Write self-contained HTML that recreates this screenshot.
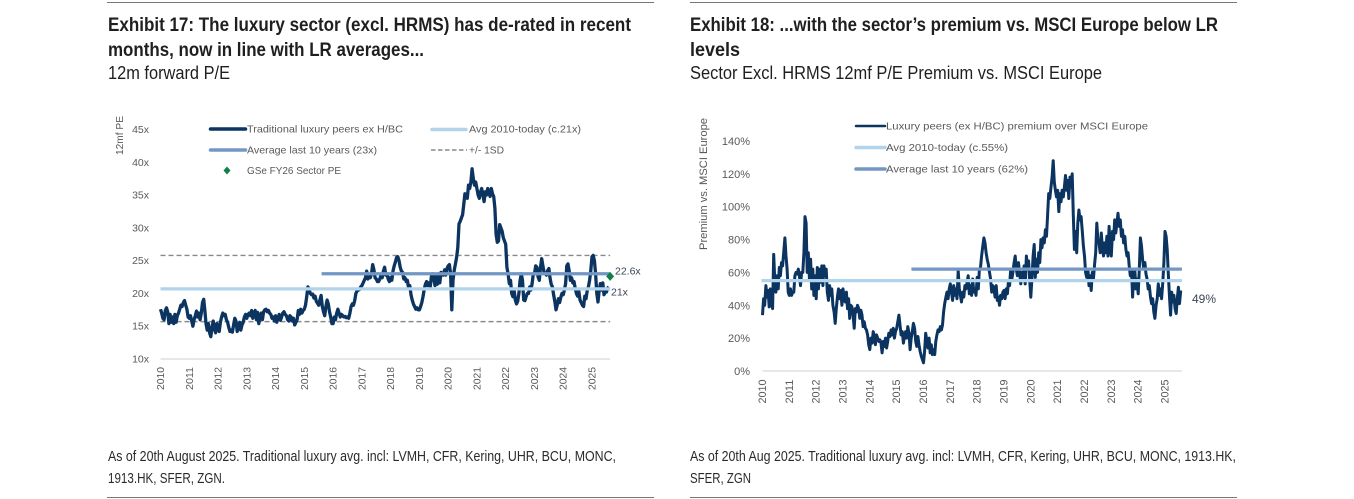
<!DOCTYPE html>
<html>
<head>
<meta charset="utf-8">
<title>Luxury sector exhibits</title>
<style>
html,body{margin:0;padding:0;background:#fff;width:1354px;height:499px;overflow:hidden}
svg{display:block}
text{font-family:"Liberation Sans",sans-serif}
.title{font-family:"Liberation Sans Narrow","Liberation Sans",sans-serif;font-weight:bold;font-size:19px;fill:#1f1f1f}
.sub{font-family:"Liberation Sans Narrow","Liberation Sans",sans-serif;font-size:18px;fill:#1f1f1f}
.foot{font-family:"Liberation Sans Narrow","Liberation Sans",sans-serif;font-size:14.5px;fill:#2b2b2b}
.leg{font-size:10.5px;fill:#595959}
.tick{font-size:10.5px;fill:#595959}
.tick-lg{font-size:11px;fill:#595959}
.anno{font-size:10.5px;fill:#3a4656}
</style>
</head>
<body>
<svg id="root" width="1354" height="499" viewBox="0 0 1354 499" xmlns="http://www.w3.org/2000/svg">
  <line x1="107" y1="2.5" x2="654" y2="2.5" stroke="#777"/>
  <line x1="690" y1="2.5" x2="1237" y2="2.5" stroke="#777"/>
  <line x1="107" y1="497.5" x2="654" y2="497.5" stroke="#777"/>
  <line x1="690" y1="497.5" x2="1237" y2="497.5" stroke="#777"/>

  <text class="title" x="108" y="31" textLength="523" lengthAdjust="spacingAndGlyphs">Exhibit 17: The luxury sector (excl. HRMS) has de-rated in recent</text>
  <text class="title" x="108" y="56" textLength="316" lengthAdjust="spacingAndGlyphs">months, now in line with LR averages...</text>
  <text class="sub" x="108" y="79" textLength="122" lengthAdjust="spacingAndGlyphs">12m forward P/E</text>

  <text class="title" x="690" y="31" textLength="528" lengthAdjust="spacingAndGlyphs">Exhibit 18: ...with the sector’s premium vs. MSCI Europe below LR</text>
  <text class="title" x="690" y="56" textLength="50" lengthAdjust="spacingAndGlyphs">levels</text>
  <text class="sub" x="690" y="79" textLength="412" lengthAdjust="spacingAndGlyphs">Sector Excl. HRMS 12mf P/E Premium vs. MSCI Europe</text>

  <text class="foot" x="108" y="461" textLength="508" lengthAdjust="spacingAndGlyphs">As of 20th August 2025. Traditional luxury avg. incl: LVMH, CFR, Kering, UHR, BCU, MONC,</text>
  <text class="foot" x="108" y="483" textLength="117" lengthAdjust="spacingAndGlyphs">1913.HK, SFER, ZGN.</text>
  <text class="foot" x="690" y="461" textLength="546" lengthAdjust="spacingAndGlyphs">As of 20th Aug 2025. Traditional luxury avg. incl: LVMH, CFR, Kering, UHR, BCU, MONC, 1913.HK,</text>
  <text class="foot" x="690" y="483" textLength="61" lengthAdjust="spacingAndGlyphs">SFER, ZGN</text>

  <g id="chart-left"></g>
  <g id="chart-right"></g>

  <g>
    <line x1="210.5" y1="129" x2="245.5" y2="129" stroke="#0b3460" stroke-width="3.5" stroke-linecap="round"/>
    <text class="leg" x="247" y="132.5" textLength="156" lengthAdjust="spacingAndGlyphs">Traditional luxury peers ex H/BC</text>
    <line x1="432" y1="129.5" x2="466" y2="129.5" stroke="#b2d3ec" stroke-width="3.5" stroke-linecap="round"/>
    <text class="leg" x="469" y="132.5" textLength="112" lengthAdjust="spacingAndGlyphs">Avg 2010-today (c.21x)</text>
    <line x1="210.5" y1="150" x2="245.5" y2="150" stroke="#7397c4" stroke-width="3.5" stroke-linecap="round"/>
    <text class="leg" x="247" y="153.5" textLength="130" lengthAdjust="spacingAndGlyphs">Average last 10 years (23x)</text>
    <line x1="431" y1="150" x2="467" y2="150" stroke="#888" stroke-width="1.4" stroke-dasharray="4.5 2.5"/>
    <text class="leg" x="469" y="153.5" textLength="35" lengthAdjust="spacingAndGlyphs">+/- 1SD</text>
    <polygon points="227,166.5 230.5,170.5 227,174.5 223.5,170.5" fill="#0e8048"/>
    <text class="leg" x="247" y="174" textLength="94" lengthAdjust="spacingAndGlyphs">GSe FY26 Sector PE</text>
  </g>
  <g>
    <line x1="856" y1="126" x2="885" y2="126" stroke="#0b3460" stroke-width="2.5" stroke-linecap="round"/>
    <text class="leg" x="886" y="129.5" textLength="262" lengthAdjust="spacingAndGlyphs">Luxury peers (ex H/BC) premium over MSCI Europe</text>
    <line x1="856" y1="147.5" x2="885" y2="147.5" stroke="#b2d3ec" stroke-width="3.5" stroke-linecap="round"/>
    <text class="leg" x="886" y="151" textLength="122" lengthAdjust="spacingAndGlyphs">Avg 2010-today (c.55%)</text>
    <line x1="856" y1="169" x2="885" y2="169" stroke="#7397c4" stroke-width="3.5" stroke-linecap="round"/>
    <text class="leg" x="886" y="172.5" textLength="142" lengthAdjust="spacingAndGlyphs">Average last 10 years (62%)</text>
  </g>
</svg>
<script>
var xYears = [2010,2011,2012,2013,2014,2015,2016,2017,2018,2019,2020,2021,2022,2023,2024,2025];
var peTicks = [10,15,20,25,30,35,40,45];
var premiumTicks = [0,20,40,60,80,100,120,140];

// Exhibit 17: twice-monthly 12m forward P/E from Jan 2010
var peValues = [
17.6,17.0,16.2,16.0,17.4,17.8,17.2,15.4,16.8,15.6,16.4,15.4,16.8,15.6,16.6,17.0,17.6,18.2,18.0,18.6,18.9,18.2,17.6,16.4,
16.2,16.6,15.8,15.0,16.0,16.6,17.3,16.4,17.0,16.0,17.0,18.6,19.1,17.5,15.4,14.4,15.4,14.0,13.4,14.8,15.8,14.6,14.0,15.4,
15.0,14.2,15.6,16.4,17.0,16.6,16.8,16.0,15.6,14.8,14.2,14.4,14.1,15.2,16.2,15.8,14.2,15.0,15.6,14.4,15.2,15.6,16.4,16.8,
16.2,16.8,17.0,16.6,17.4,16.2,16.8,17.4,16.0,17.1,15.4,16.6,17.0,16.0,17.2,17.5,17.6,17.2,17.4,17.0,16.8,16.2,16.4,15.8,
16.6,15.6,16.2,16.8,15.9,16.4,17.0,17.2,16.8,16.6,16.0,15.8,16.6,16.4,15.8,16.2,15.2,15.6,16.0,17.4,16.8,17.6,17.0,17.4,
17.6,18.2,19.5,21.0,20.6,20.0,19.8,19.9,19.3,19.6,18.8,18.5,18.2,19.0,19.7,18.0,17.2,16.6,18.0,19.0,18.4,17.2,16.4,15.4,
15.4,16.4,16.0,17.0,17.6,17.0,16.4,16.8,16.6,16.4,16.5,16.3,16.4,16.2,17.0,18.0,18.4,18.2,18.9,20.0,20.4,20.5,20.6,21.0,
21.2,21.6,22.0,22.4,23.4,22.2,22.8,22.4,23.0,24.4,23.6,22.4,22.2,21.8,21.8,22.2,22.8,22.4,23.4,24.0,22.8,23.0,22.2,21.8,
22.4,22.0,23.4,24.2,24.8,25.5,25.6,25.0,24.0,23.4,23.2,22.2,22.4,21.8,22.0,20.8,21.2,19.8,19.0,18.4,18.0,17.6,17.8,17.5,
17.5,18.0,18.6,19.5,20.6,21.4,21.8,21.2,21.6,21.0,22.6,23.0,22.2,21.2,22.8,21.4,23.0,21.6,23.2,23.0,22.8,23.6,22.8,23.8,
24.2,24.4,23.0,17.5,22.0,23.5,24.5,25.5,27.0,30.6,31.0,31.5,32.0,33.5,35.2,35.0,34.5,36.5,36.0,37.0,39.0,37.5,36.5,37.0,
36.0,35.0,34.5,35.5,36.0,35.0,34.0,35.5,35.0,36.0,35.5,34.8,36.0,35.2,34.8,33.0,29.0,27.8,28.0,30.5,30.0,29.5,28.5,28.0,
27.5,24.0,23.0,21.5,22.0,20.0,19.5,20.5,19.0,18.4,18.8,20.0,22.0,23.0,22.0,19.0,18.9,19.5,20.0,20.0,21.0,20.5,21.5,23.0,
23.0,24.2,24.0,22.5,22.0,24.0,25.3,24.2,23.2,23.0,22.8,23.5,23.8,22.4,21.4,21.0,19.8,18.8,17.5,18.2,19.2,18.6,19.4,20.0,
19.8,20.5,21.5,24.2,24.5,23.4,22.0,22.4,21.6,21.8,20.8,20.0,19.6,20.4,19.0,18.6,18.2,18.0,19.6,19.2,20.4,21.0,22.0,23.5,
25.6,25.8,25.0,23.0,20.0,18.7,20.5,21.5,20.5,21.6,19.8,20.2,20.2,20.8,21.0
];
var peAvgAll = 20.7;
var peAvg10y = 23;
var peAvg10yStart = 2015.6;
var peUpperSd = 25.8;
var peLowerSd = 15.7;
var peForecast = 22.6;

// Exhibit 18: twice-monthly premium (%) from Jan 2010
var premiumValues = [
34,44,40,52,45,49,39,50,42,38,71,55,48,58,50,63,58,66,64,72,81,70,62,48,
46,50,46,48,48,58,60,59,62,58,52,60,60,72,94,90,60,72,55,68,50,62,46,58,
44,63,50,62,54,64,52,64,58,62,48,43,52,46,50,40,36,29,38,45,50,44,49,40,
50,45,42,48,38,44,32,40,39,34,26,38,36,40,38,32,37,34,27,30,26,25,22,16,
13,20,17,24,21,16,22,20,18,19,17,11,18,15,20,14,18,23,21,25,22,26,20,24,
26,30,34,28,22,24,17,21,24,20,27,23,13,20,24,29,26,18,15,21,16,12,9,7,
5,12,23,18,14,20,11,16,10,13,10,18,22,25,24,27,25,28,36,41,45,48,44,50,
53,48,43,52,46,50,44,61,50,46,42,48,45,52,50,54,58,47,52,46,56,48,50,46,
57,50,62,63,70,76,81,78,72,68,65,60,56,48,52,50,45,52,43,45,40,46,44,48,
49,44,50,47,55,52,62,56,60,66,70,62,58,66,59,53,60,56,64,53,70,62,67,55,
45,57,70,77,57,68,60,72,66,80,75,81,78,86,82,95,108,105,112,118,128,115,110,106,
110,97,108,103,110,106,112,119,110,116,105,118,112,120,95,74,85,72,90,98,92,94,85,76,
70,60,57,62,52,58,49,60,56,65,72,90,80,78,72,84,75,70,78,72,82,70,88,76,
70,85,80,92,84,90,96,88,92,82,86,78,82,74,70,72,64,58,62,45,58,62,50,56,
47,62,81,76,68,62,66,59,56,50,52,45,41,44,36,32,40,44,53,46,50,44,54,66,
85,82,74,58,45,34,48,42,46,38,35,44,51,41,49
];
var premiumAvgAll = 55;
var premiumAvg10y = 62;
var premiumAvg10yStart = 2015.55;
var premiumLatest = 49;
var lastYear = 2025.63;

var SVGNS = 'http://www.w3.org/2000/svg';
function make(parent, tag, attrs, txt) {
  var el = document.createElementNS(SVGNS, tag);
  for (var k in attrs) el.setAttribute(k, attrs[k]);
  if (txt !== undefined) el.textContent = txt;
  parent.appendChild(el);
  return el;
}
function linear(d0, d1, r0, r1) {
  return function (v) { return r0 + (v - d0) * (r1 - r0) / (d1 - d0); };
}
function seriesPath(values, perYear, x, y) {
  var d = '';
  for (var i = 0; i < values.length; i++) {
    d += (i ? 'L' : 'M') + x(2010 + i / perYear).toFixed(1) + ' ' + y(values[i]).toFixed(1);
  }
  return d;
}

/* ---------- Exhibit 17 ---------- */
var left = document.getElementById('chart-left');
var xL = linear(2010, 2025, 160.5, 592);
var yL = linear(10, 45, 359, 129.5);

var el;
el = make(left, 'line', {x1: xL(2010), x2: xL(lastYear), y1: yL(10), y2: yL(10), stroke: '#cfcfcf', 'stroke-width': 1});



peTicks.forEach(function (t) {
  var lab = make(left, 'text', {x: 149, y: yL(t) + 3.5, 'text-anchor': 'end', 'class': 'tick'}, t + 'x');
  
  
});
xYears.forEach(function (yr) {
  var cx = xL(yr) + 3.5;
  var lab = make(left, 'text', {x: cx, y: 390, 'class': 'tick', transform: 'rotate(-90 ' + cx + ' 390)', textLength: 23, lengthAdjust: 'spacingAndGlyphs'}, yr);
  
  
});
el = make(left, 'text', {x: 123, y: 155, 'class': 'tick', transform: 'rotate(-90 123 155)', textLength: 39, lengthAdjust: 'spacingAndGlyphs'}, '12mf PE');



[peUpperSd, peLowerSd].forEach(function (v) {
  var sd = make(left, 'line', {x1: xL(2010), x2: xL(lastYear), y1: yL(v), y2: yL(v), stroke: '#8a8a8a', 'stroke-width': 1.4, 'stroke-dasharray': '5 3'});
  
  
});

el = make(left, 'path', {d: seriesPath(peValues, 24, xL, yL), fill: 'none', stroke: '#0b3460', 'stroke-width': 3.3, 'stroke-linejoin': 'round'});



el = make(left, 'line', {x1: xL(2010), x2: xL(lastYear), y1: yL(peAvgAll), y2: yL(peAvgAll), stroke: '#b2d3ec', 'stroke-width': 3.2});



el = make(left, 'line', {x1: xL(peAvg10yStart), x2: xL(lastYear), y1: yL(peAvg10y), y2: yL(peAvg10y), stroke: '#7397c4', 'stroke-width': 3.2});



var fx = xL(lastYear), fy = yL(peForecast);
el = make(left, 'polygon', {points: fx + ',' + (fy - 4.5) + ' ' + (fx + 4) + ',' + fy + ' ' + fx + ',' + (fy + 4.5) + ' ' + (fx - 4) + ',' + fy, fill: '#0e8048'});



el = make(left, 'text', {x: 615, y: yL(peForecast) - 2, 'class': 'anno'}, peForecast + 'x');



el = make(left, 'text', {x: 611, y: 295.5, 'class': 'anno'}, '21x');



/* ---------- Exhibit 18 ---------- */
var right = document.getElementById('chart-right');
var xR = linear(2010, 2025, 762.5, 1165);
var yR = linear(0, 140, 371, 141);

el = make(right, 'line', {x1: xR(2010), x2: xR(lastYear), y1: yR(0), y2: yR(0), stroke: '#cfcfcf', 'stroke-width': 1});



premiumTicks.forEach(function (t) {
  var lab = make(right, 'text', {x: 750, y: yR(t) + 4, 'text-anchor': 'end', 'class': 'tick-lg'}, t + '%');
  
  
});
xYears.forEach(function (yr) {
  var cx = xR(yr) + 3.5;
  var lab = make(right, 'text', {x: cx, y: 403.5, 'class': 'tick-lg', transform: 'rotate(-90 ' + cx + ' 403.5)', textLength: 24, lengthAdjust: 'spacingAndGlyphs'}, yr);
  
  
});
el = make(right, 'text', {x: 707, y: 250, 'class': 'tick-lg', transform: 'rotate(-90 707 250)', textLength: 132, lengthAdjust: 'spacingAndGlyphs'}, 'Premium vs. MSCI Europe');



el = make(right, 'path', {d: seriesPath(premiumValues, 24, xR, yR), fill: 'none', stroke: '#0b3460', 'stroke-width': 3, 'stroke-linejoin': 'round'});



el = make(right, 'line', {x1: xR(2010) - 1, x2: xR(lastYear), y1: yR(premiumAvgAll), y2: yR(premiumAvgAll), stroke: '#b2d3ec', 'stroke-width': 3.2});



el = make(right, 'line', {x1: xR(premiumAvg10yStart), x2: xR(lastYear), y1: yR(premiumAvg10y), y2: yR(premiumAvg10y), stroke: '#7397c4', 'stroke-width': 3.2});



el = make(right, 'text', {x: 1192, y: 303, 'class': 'anno', style: 'font-size:12px'}, premiumLatest + '%');


</script>
</body>
</html>
